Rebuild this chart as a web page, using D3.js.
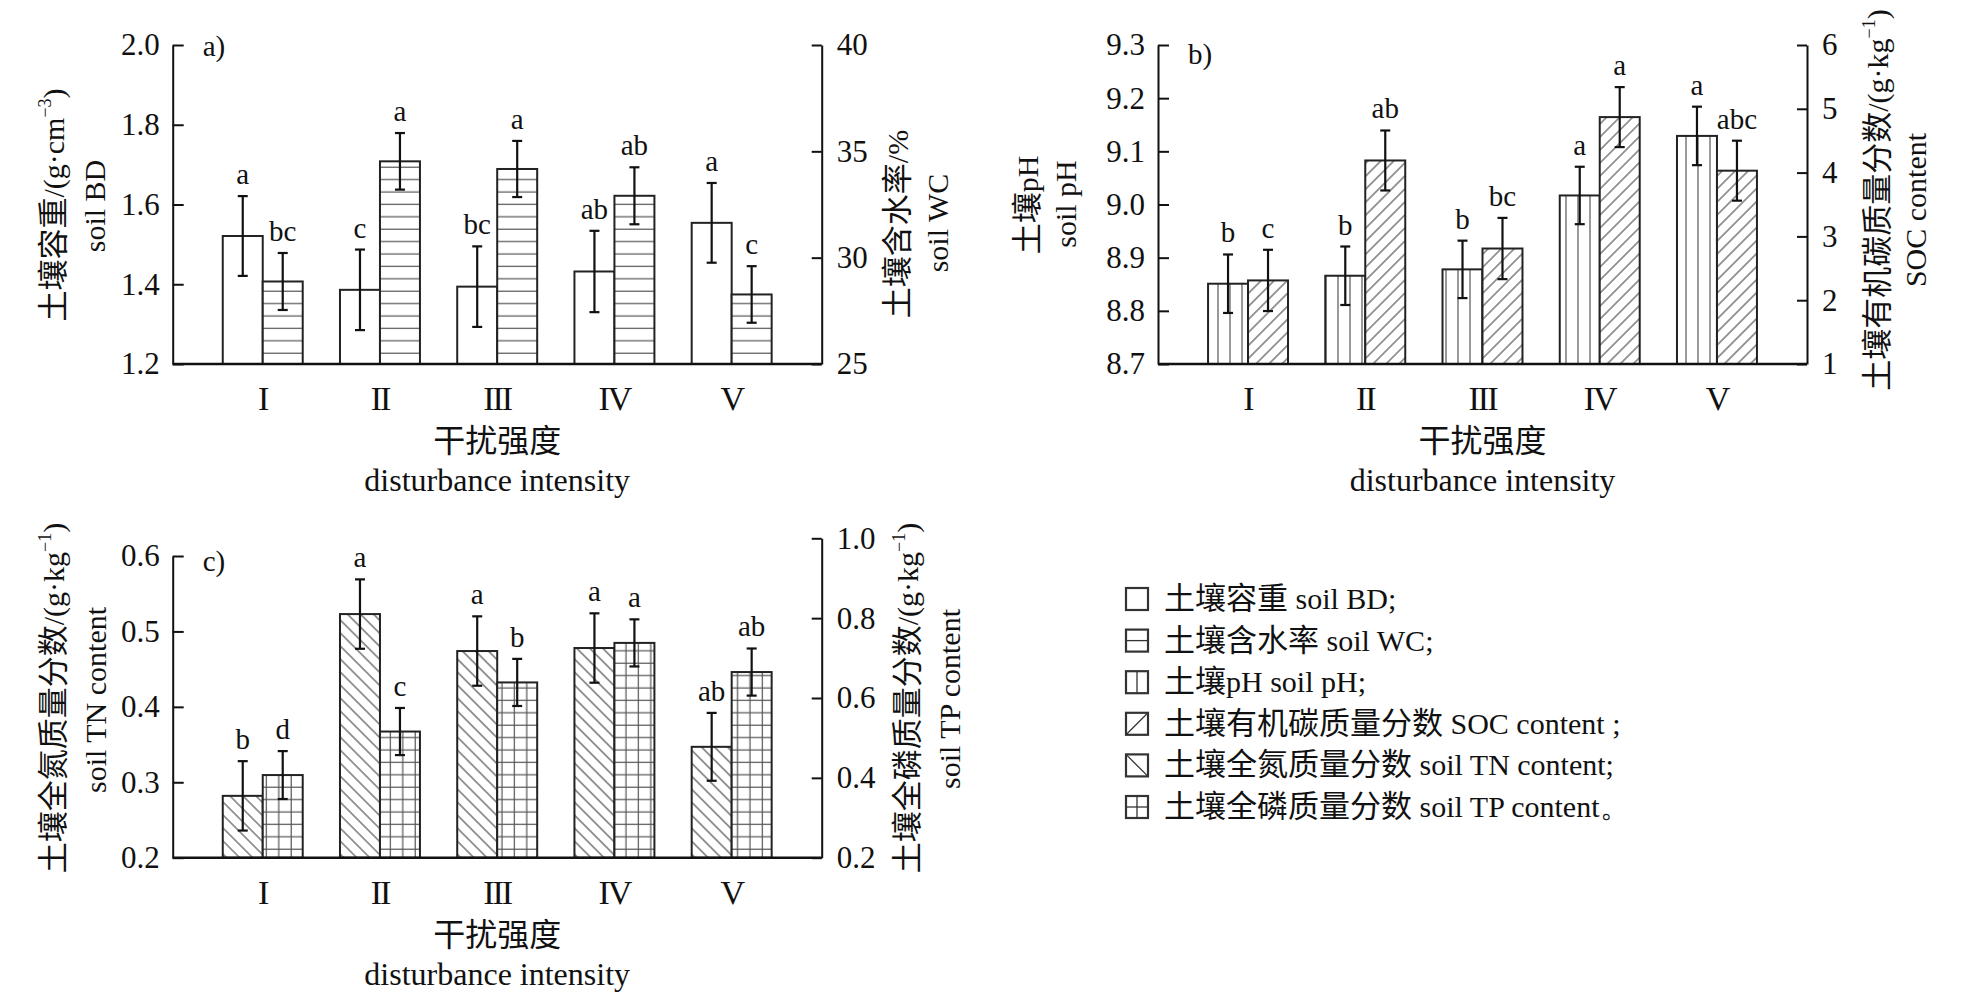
<!DOCTYPE html>
<html>
<head>
<meta charset="utf-8">
<script src="https://cdn.jsdelivr.net/npm/d3@7"></script>
<style>
  body { margin: 0; background: #fff; }
  text { font-family: "Liberation Serif", "Noto Sans CJK SC", serif; fill: #111; }
</style>
</head>
<body>
<svg id="chart" width="1961" height="995"></svg>
<script>
// disturbance intensity groups
const groups = ["I", "II", "III", "IV", "V"];

// a) bulk density (left) and water content (right)
const bd = [1.521, 1.386, 1.394, 1.432, 1.554];
const bdErr = [0.100, 0.101, 0.101, 0.102, 0.100];
const bdSig = ["a", "c", "bc", "ab", "a"];
const wc = [28.88, 34.53, 34.17, 32.91, 28.27];
const wcErr = [1.34, 1.33, 1.32, 1.34, 1.33];
const wcSig = ["bc", "a", "a", "ab", "c"];

// b) pH (left) and SOC (right)
const ph = [8.851, 8.866, 8.878, 9.017, 9.129];
const phErr = [0.055, 0.055, 0.054, 0.054, 0.055];
const phSig = ["b", "b", "b", "a", "a"];
const soc = [2.31, 4.19, 2.81, 4.87, 4.03];
const socErr = [0.48, 0.47, 0.48, 0.47, 0.47];
const socSig = ["c", "ab", "bc", "a", "abc"];

// c) total N (left) and total P (right)
const tn = [0.282, 0.523, 0.474, 0.478, 0.347];
const tnErr = [0.046, 0.046, 0.046, 0.046, 0.045];
const tnSig = ["b", "a", "a", "a", "ab"];
const tp = [0.407, 0.516, 0.639, 0.738, 0.665];
const tpErr = [0.060, 0.059, 0.059, 0.059, 0.059];
const tpSig = ["d", "c", "b", "a", "ab"];

// tick values
const ticksBD = [1.2, 1.4, 1.6, 1.8, 2.0];
const ticksWC = [25, 30, 35, 40];
const ticksPH = [8.7, 8.8, 8.9, 9.0, 9.1, 9.2, 9.3];
const ticksSOC = [1, 2, 3, 4, 5, 6];
const ticksTN = [0.2, 0.3, 0.4, 0.5, 0.6];
const ticksTP = [0.2, 0.4, 0.6, 0.8, 1.0];

const legendNames = [
  ["土壤容重", " soil BD;"],
  ["土壤含水率", " soil WC;"],
  ["土壤", "pH soil pH;"],
  ["土壤有机碳质量分数", " SOC content ;"],
  ["土壤全氮质量分数", " soil TN content;"],
  ["土壤全磷质量分数", " soil TP content。"]
];
const legendFills = ["none", "hline", "vline", "diagR", "diagL", "grid"];

const CJK = "Noto Sans CJK SC";
const SERIF = "Liberation Serif";
const INK = "#111";
const HATCH = "#555";

const svg = d3.select("#chart");
svg.append("rect").attr("width", 1961).attr("height", 995).attr("fill", "#fff");

// ---- hatch patterns
const defs = svg.append("defs");
function pattern(id, w, h, paths, rot) {
  const p = defs.append("pattern")
    .attr("id", id)
    .attr("patternUnits", "userSpaceOnUse")
    .attr("width", w).attr("height", h);
  if (rot) p.attr("patternTransform", `rotate(${rot})`);
  p.append("rect").attr("width", w).attr("height", h).attr("fill", "#fff");
  paths.forEach(d => p.append("path").attr("d", d)
    .attr("stroke", HATCH).attr("stroke-width", 1.2).attr("fill", "none"));
}
pattern("hline", 20, 12.4, ["M0,6 H20"]);
pattern("vline", 12, 20, ["M6,0 V20"]);
pattern("diagR", 9.2, 9.2, ["M4.6,0 V9.2"], 45);
pattern("diagL", 9.2, 9.2, ["M4.6,0 V9.2"], -45);
pattern("grid", 12.4, 12.4, ["M0,6 H12.4", "M6,0 V12.4"]);

function fillOf(key) {
  return key === "none" ? "#fff" : `url(#${key})`;
}

// mixed CJK / latin text; parts: [text, kind] kind = cjk | lat | sup | lat2
function richText(sel, parts, size) {
  parts.forEach(([t, kind]) => {
    const ts = sel.append("tspan").text(t);
    if (kind === "cjk") ts.attr("font-family", CJK).attr("font-size", size + 1);
    else if (kind === "sup") ts.attr("font-family", SERIF).attr("font-size", size * 0.6).attr("dy", -size * 0.42);
    else if (kind === "lat2") ts.attr("font-family", SERIF).attr("font-size", size).attr("dy", size * 0.42);
    else ts.attr("font-family", SERIF).attr("font-size", size);
  });
  return sel;
}

function rotTitle(x, y, parts, size) {
  const t = svg.append("text")
    .attr("transform", `translate(${x},${y}) rotate(-90)`)
    .attr("text-anchor", "middle");
  return richText(t, parts, size);
}

function drawPanel(p) {
  const g = svg.append("g");

  const x0 = d3.scaleBand().domain(groups)
    .range([p.left, p.right]).paddingInner(0).paddingOuter(0.268);
  const x1 = d3.scaleBand().domain([0, 1])
    .range([0, x0.bandwidth()]).paddingInner(0).paddingOuter(0.466);
  const yL = d3.scaleLinear().domain(p.leftDomain).range([p.bottom, p.leftTop]);
  const yR = d3.scaleLinear().domain(p.rightDomain).range([p.bottom, p.rightTop]);

  const series = [
    { vals: p.leftVals, err: p.leftErr, sig: p.leftSig, fill: p.leftFill, y: yL },
    { vals: p.rightVals, err: p.rightErr, sig: p.rightSig, fill: p.rightFill, y: yR }
  ];

  series.forEach((s, k) => {
    const rows = groups.map((name, i) => ({ name, v: s.vals[i], e: s.err[i], sig: s.sig[i] }));
    const cx = d => x0(d.name) + x1(k) + x1.bandwidth() / 2;

    g.selectAll(null).data(rows).enter().append("rect")
      .attr("x", d => x0(d.name) + x1(k))
      .attr("y", d => s.y(d.v))
      .attr("width", x1.bandwidth())
      .attr("height", d => p.bottom - s.y(d.v))
      .attr("fill", fillOf(s.fill))
      .attr("stroke", "#222")
      .attr("stroke-width", 2);

    // error bars
    const eb = g.selectAll(null).data(rows).enter().append("g")
      .attr("stroke", INK).attr("stroke-width", 2.2);
    eb.append("line")
      .attr("x1", cx).attr("x2", cx)
      .attr("y1", d => s.y(d.v + d.e)).attr("y2", d => s.y(d.v - d.e));
    eb.append("line")
      .attr("x1", d => cx(d) - 5).attr("x2", d => cx(d) + 5)
      .attr("y1", d => s.y(d.v + d.e)).attr("y2", d => s.y(d.v + d.e));
    eb.append("line")
      .attr("x1", d => cx(d) - 5).attr("x2", d => cx(d) + 5)
      .attr("y1", d => s.y(d.v - d.e)).attr("y2", d => s.y(d.v - d.e));

    // significance letters
    g.selectAll(null).data(rows).enter().append("text")
      .attr("x", cx)
      .attr("y", d => s.y(d.v + d.e) - 12)
      .attr("text-anchor", "middle")
      .attr("font-size", 29)
      .text(d => d.sig);
  });

  // axes, ticks pointing inwards
  const axL = g.append("g").attr("transform", `translate(${p.left},0)`)
    .call(d3.axisLeft(yL).tickValues(p.leftTicks).tickFormat(d3.format(p.leftFmt))
      .tickSizeInner(-11).tickSizeOuter(0).tickPadding(13));
  const axR = g.append("g").attr("transform", `translate(${p.right},0)`)
    .call(d3.axisRight(yR).tickValues(p.rightTicks).tickFormat(d3.format(p.rightFmt))
      .tickSizeInner(-10).tickSizeOuter(0).tickPadding(15));
  [axL, axR].forEach(ax => {
    ax.attr("font-family", null).attr("font-size", null);
    ax.selectAll("path, line").attr("stroke", INK).attr("stroke-width", 2);
    ax.selectAll("text").attr("font-family", SERIF).attr("font-size", 31).attr("fill", INK);
  });

  // x baseline
  g.append("line")
    .attr("x1", p.left).attr("x2", p.right)
    .attr("y1", p.bottom).attr("y2", p.bottom)
    .attr("stroke", INK).attr("stroke-width", 2.6);

  // group labels (roman numerals)
  g.selectAll(null).data(groups).enter().append("text")
    .attr("x", d => x0(d) + x0.bandwidth() / 2)
    .attr("y", p.bottom + 46)
    .attr("text-anchor", "middle")
    .attr("font-size", 34)
    .attr("letter-spacing", -2)
    .text(d => d);

  const mid = (p.left + p.right) / 2;
  g.append("text").attr("x", mid).attr("y", p.bottom + 88)
    .attr("text-anchor", "middle").attr("font-family", CJK).attr("font-size", 32)
    .text("干扰强度");
  g.append("text").attr("x", mid).attr("y", p.bottom + 127)
    .attr("text-anchor", "middle").attr("font-size", 32)
    .text("disturbance intensity");

  // panel tag
  g.append("text").attr("x", p.left + 30).attr("y", p.tagY)
    .attr("font-size", 29).text(p.tag);

  // axis titles
  p.titles.forEach(t => rotTitle(t.x, t.y, t.parts, 30));
}

drawPanel({
  left: 172.7, right: 821.7, bottom: 364, leftTop: 45, rightTop: 45,
  leftDomain: [1.2, 2.0], rightDomain: [25, 40],
  leftTicks: ticksBD, rightTicks: ticksWC, leftFmt: ".1f", rightFmt: "d",
  leftVals: bd, leftErr: bdErr, leftSig: bdSig, leftFill: "none",
  rightVals: wc, rightErr: wcErr, rightSig: wcSig, rightFill: "hline",
  tag: "a)", tagY: 56,
  titles: [
    { x: 64, y: 205, parts: [["土壤容重", "cjk"], ["/(g·cm", "lat"], ["−3", "sup"], [")", "lat2"]] },
    { x: 105, y: 206, parts: [["soil BD", "lat"]] },
    { x: 908, y: 224, parts: [["土壤含水率", "cjk"], ["/%", "lat"]] },
    { x: 948, y: 223, parts: [["soil WC", "lat"]] }
  ]
});

drawPanel({
  left: 1158, right: 1807, bottom: 364, leftTop: 45, rightTop: 45,
  leftDomain: [8.7, 9.3], rightDomain: [1, 6],
  leftTicks: ticksPH, rightTicks: ticksSOC, leftFmt: ".1f", rightFmt: "d",
  leftVals: ph, leftErr: phErr, leftSig: phSig, leftFill: "vline",
  rightVals: soc, rightErr: socErr, rightSig: socSig, rightFill: "diagR",
  tag: "b)", tagY: 64,
  titles: [
    { x: 1038, y: 205, parts: [["土壤", "cjk"], ["pH", "lat"]] },
    { x: 1076, y: 204, parts: [["soil pH", "lat"]] },
    { x: 1888, y: 200, parts: [["土壤有机碳质量分数", "cjk"], ["/(g·kg", "lat"], ["−1", "sup"], [")", "lat2"]] },
    { x: 1926, y: 210, parts: [["SOC content", "lat"]] }
  ]
});

drawPanel({
  left: 172.7, right: 821.7, bottom: 857.7, leftTop: 556, rightTop: 538.3,
  leftDomain: [0.2, 0.6], rightDomain: [0.2, 1.0],
  leftTicks: ticksTN, rightTicks: ticksTP, leftFmt: ".1f", rightFmt: ".1f",
  leftVals: tn, leftErr: tnErr, leftSig: tnSig, leftFill: "diagL",
  rightVals: tp, rightErr: tpErr, rightSig: tpSig, rightFill: "grid",
  tag: "c)", tagY: 571,
  titles: [
    { x: 64, y: 698, parts: [["土壤全氮质量分数", "cjk"], ["/(g·kg", "lat"], ["−1", "sup"], [")", "lat2"]] },
    { x: 106, y: 700, parts: [["soil TN content", "lat"]] },
    { x: 918, y: 698, parts: [["土壤全磷质量分数", "cjk"], ["/(g·kg", "lat"], ["−1", "sup"], [")", "lat2"]] },
    { x: 960, y: 699, parts: [["soil TP content", "lat"]] }
  ]
});

// ---- legend
const lg = svg.append("g").attr("transform", "translate(1126,588)");
const rowY = d3.scaleLinear().domain([0, 5]).range([0, 208]);
const sw = 22;
legendNames.forEach((name, i) => {
  const row = lg.append("g").attr("transform", `translate(0,${rowY(i)})`);
  const s = row.append("g").attr("stroke", "#333").attr("fill", "none");
  const kind = legendFills[i];
  if (kind === "hline" || kind === "grid") s.append("line").attr("x1", 0).attr("x2", sw).attr("y1", sw / 2).attr("y2", sw / 2).attr("stroke-width", 1.3);
  if (kind === "vline" || kind === "grid") s.append("line").attr("x1", sw / 2).attr("x2", sw / 2).attr("y1", 0).attr("y2", sw).attr("stroke-width", 1.3);
  if (kind === "diagR") s.append("line").attr("x1", 0).attr("x2", sw).attr("y1", sw).attr("y2", 0).attr("stroke-width", 1.3);
  if (kind === "diagL") s.append("line").attr("x1", 0).attr("x2", sw).attr("y1", 0).attr("y2", sw).attr("stroke-width", 1.3);
  s.append("rect").attr("width", sw).attr("height", sw).attr("stroke-width", 2.2);

  const t = row.append("text").attr("x", 38).attr("y", sw / 2 + 10);
  richText(t, [[name[0], "cjk"], [name[1], "lat"]], 30);
});
</script>
</body>
</html>
